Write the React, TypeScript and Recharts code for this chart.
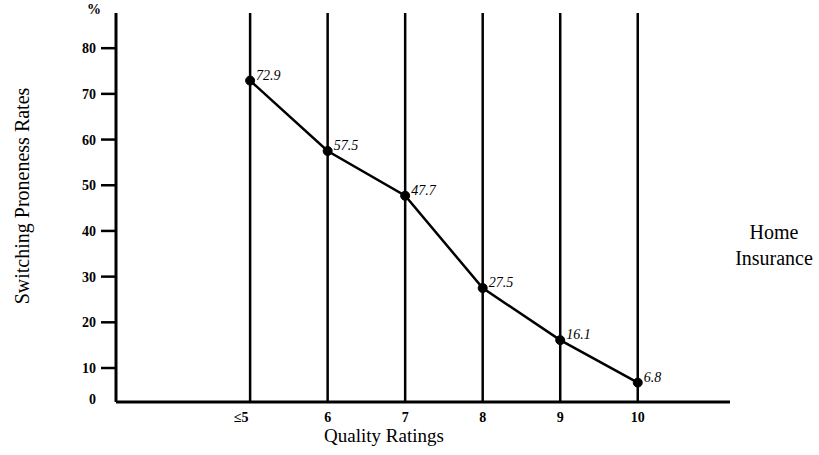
import { LineChart, Line, XAxis, YAxis, ReferenceLine, LabelList } from "recharts"

const ratings = [5, 6, 7, 8, 9, 10]
const switchingRates = [72.9, 57.5, 47.7, 27.5, 16.1, 6.8]
const yTicks = [0, 10, 20, 30, 40, 50, 60, 70, 80]
const xTickLabels = ["≤5", "6", "7", "8", "9", "10"]

const data = ratings.map((r, i) => ({ rating: r, rate: switchingRates[i] }))

const FONT = '"Liberation Serif", "Times New Roman", serif'
const PLOT_BOTTOM = 402

function XTick(props: any) {
  const { x, y, payload } = props
  const idx = ratings.indexOf(payload.value)
  const label = idx >= 0 ? xTickLabels[idx] : String(payload.value)
  const dx = idx === 0 ? -9 : 0
  return (
    <text x={x + dx} y={y + 12} textAnchor="middle" fontFamily={FONT} fontSize={14} fontWeight="bold" fill="#000">
      {label}
    </text>
  )
}

// the scanned axis starts a little above zero, so the "0" label sits on the baseline
function YTick(props: any) {
  const { x, y, payload } = props
  const isZero = payload.value === 0
  const ty = isZero ? PLOT_BOTTOM - 3 : y
  return (
    <g>
      {!isZero && <line x1={x + 2} x2={x + 17} y1={y} y2={y} stroke="#000" strokeWidth={2.5} />}
      <text x={x - 3} y={ty + 5} textAnchor="end" fontFamily={FONT} fontSize={14} fontWeight="bold" fill="#000">
        {payload.value}
      </text>
    </g>
  )
}

function PointLabel(props: any) {
  const { x, y, value } = props
  return (
    <text x={x + 6} y={y - 1} fontFamily={FONT} fontSize={14} fontStyle="italic" fill="#000">
      {value}
    </text>
  )
}

export default function App() {
  return (
    <div style={{ position: "absolute", left: 0, top: 0, width: 819, height: 455, background: "#fff", fontFamily: FONT }}>
      <LineChart width={819} height={455} data={data} margin={{ top: 13, right: 89, bottom: 23, left: 56 }}>
        <XAxis
          dataKey="rating"
          type="number"
          domain={[3.27, 11.19]}
          ticks={ratings}
          tick={<XTick />}
          tickLine={false}
          axisLine={{ stroke: "#000", strokeWidth: 3 }}
          height={30}
          allowDataOverflow
        />
        <YAxis
          type="number"
          domain={[2.56, 87.7]}
          ticks={yTicks}
          width={60}
          tickSize={15}
          tickLine={false}
          axisLine={{ stroke: "#000", strokeWidth: 3 }}
          tick={<YTick />}
          allowDataOverflow
        />
        {ratings.map((r) => (
          <ReferenceLine key={r} x={r} stroke="#000" strokeWidth={2.5} />
        ))}
        <Line
          type="linear"
          dataKey="rate"
          stroke="#000"
          strokeWidth={2.5}
          dot={{ r: 4.5, fill: "#000", stroke: "#000", strokeWidth: 1 }}
          activeDot={false}
          isAnimationActive={false}
        >
          <LabelList dataKey="rate" content={<PointLabel />} />
        </Line>
      </LineChart>
      <div style={{ position: "absolute", left: 87, top: 2, fontSize: 14, fontWeight: "bold" }}>%</div>
      <div
        style={{
          position: "absolute",
          left: 22,
          top: 196,
          transform: "translate(-50%, -50%) rotate(-90deg)",
          whiteSpace: "nowrap",
          fontSize: 20,
        }}
      >
        Switching Proneness Rates
      </div>
      <div style={{ position: "absolute", left: 384, top: 436, transform: "translate(-50%, -50%)", fontSize: 19, whiteSpace: "nowrap" }}>
        Quality Ratings
      </div>
      <div style={{ position: "absolute", left: 774, top: 245, transform: "translate(-50%, -50%)", fontSize: 20, textAlign: "center", lineHeight: "26px" }}>
        Home
        <br />
        Insurance
      </div>
    </div>
  )
}
